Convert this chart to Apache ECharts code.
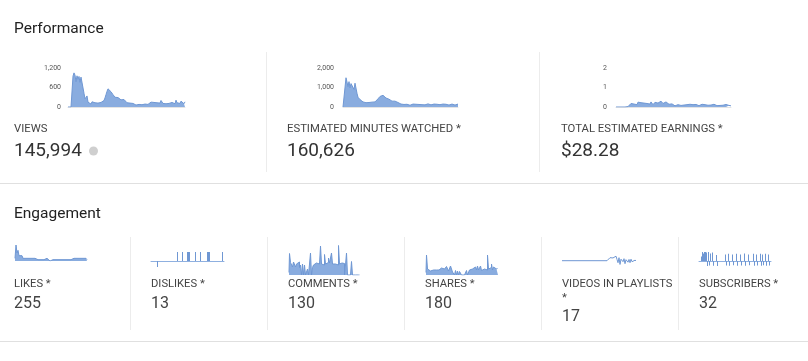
<!DOCTYPE html>
<html>
<head>
<meta charset="utf-8">
<script src="https://cdn.jsdelivr.net/npm/echarts@6/dist/echarts.min.js"></script>
<style>
html,body{margin:0;padding:0;background:#fff;}
#c{width:808px;height:361px;}
</style>
</head>
<body>
<div id="c"></div>
<script>
const viewsTicks = ['0', '600', '1,200'];
const minutesTicks = ['0', '1,000', '2,000'];
const earningsTicks = ['0', '1', '2'];

const views = [0,0,0,0,0,
  950,1050,980,780,960,850,940,760,920,880,940,
  420,250,200,340,150,120,180,90,160,110,170,130,80,150,120,180,100,140,170,120,
  200,280,380,480,560,590,540,470,420,380,330,300,350,260,290,240,270,220,250,210,230,180,200,
  130,110,80,120,90,70,110,80,100,60,90,120,80,110,90,70,100,120,90,140,110,80,130,100,
  150,120,90,140,110,160,130,100,170,120,200,140,110,160,120,100,150,130,110,160,90,140,120,170,100,210,130,100,150,110,180,120,140,100,160];

const minutes = [0,0,0,
  1500,1420,1050,1300,980,1200,1100,1250,900,1220,1180,
  700,500,420,380,300,330,260,280,240,220,260,200,230,190,
  200,250,220,280,260,320,350,420,480,540,580,620,600,
  540,500,460,420,380,400,340,360,300,320,280,300,250,270,230,260,200,
  150,120,100,130,90,110,140,100,120,90,130,110,150,100,120,140,90,110,130,100,150,120,90,140,110,130,100,160,120,140,110,90,130,150,100,120,140,110,170,120,100,130,150,110,90,140,120,160,100,130,110,150,120,140,100,160,130,150];

const earnings = [0,0,0,0,0,0,0,0,0,0,0,0,0.02,
  0.12,0.05,0.18,0.1,0.22,0.15,0.08,0.2,0.12,0.25,0.18,0.3,0.22,0.15,0.28,0.2,0.12,0.24,0.18,0.1,0.22,0.15,0.26,0.18,0.12,0.2,0.24,0.16,0.28,0.2,0.14,0.22,
  0.3,0.24,0.18,0.28,0.2,0.26,0.16,0.22,0.14,0.2,0.1,0.16,0.08,0.12,0.06,0.1,0.08,0.12,0.06,0.1,
  0.08,0.12,0.06,0.1,0.14,0.08,0.12,0.1,0.06,0.14,0.1,0.08,0.12,0.06,0.1,0.13,0.08,0.11,0.07,0.12,0.09,0.14,0.08,0.1,0.12,0.06,0.11,0.09,0.13,0.07,0.1,0.12,0.08,0.14,0.09,0.11,0.07,0.13,0.1,0.08,0.12,0.15,0.09,0.11,0.07,0.13,0.1,0.12,0.08,0.1,0.06];

const likes = [2,12,6,8,4,5,3,4,2,3,1,2,1,1,2,1,1,2,1,1,2,1,2,1,2,2,1,2,1,1,2,1,2,1,1,0,1,0,1,1,0,1,2,1,1,2,1,1,2,1,1,2,1,1,2,1,1,2,1,2,1,1,2,1,1,2,1,1,2,1,1,2,1];

const dislikes = [0,0,0,0,0,0,-2,0,0,0,0,0,0,0,0,0,0,0,0,0,0,0,0,0,0,0,3,0,0,0,0,3,0,0,0,0,3,3,3,0,0,0,0,0,3,0,0,0,0,3,0,0,0,0,0,0,3,3,3,0,0,0,0,0,0,0,0,0,0,0,0,3,0];

const comments = [0.5,4.3,2.5,2.4,1.6,2.6,2.6,1.6,2.2,2.2,2.6,1.5,2,0,2.2,0,2,0,0,1.2,0,0,4.4,0,1.5,2,2.2,2.4,2.2,2.5,2.2,2.5,5.8,2.2,2.4,2,4.1,2.2,2,2.5,3.4,2.4,2.2,4.4,2.2,2.5,2.2,2,2.4,2,5.9,2.2,2.5,2.4,2,2.3,0,2,4.4,0,0,0,0,2.7,0,0,0,0,0,0,0,0];

const shares = [0.5,4,1.2,1,0.8,1,0.9,1,1.1,0.8,1,1.2,0.9,1,1.1,1.4,1,1.6,1.2,0.8,1,1.7,1.3,0.8,1,1.8,1.2,0.6,0.8,0,0.9,0,0.8,0,0.7,1,0,0,0,0,0,0.9,0,0,1,0.8,1.2,1,0.9,1.6,1.2,1,1.8,1,1.3,1.8,0.9,0.8,1.2,0.8,1.5,1,4,1.2,0.8,1.5,2.2,1,1.6,1.8,1.2,1.4,1];

const playlists = [0,0,0,0,0,0,0,0,0,0,0,0,0,0,0,0,0,0,0,0,0,0,0,0,0,0,0,0,0,0,0,0,0,0,0,0,0,0,0,0,0,0,0,0,0,0,
  0.4,0.8,1.2,0.9,1.3,1.1,0.6,1.4,1.8,0.5,-0.8,1.2,-1.5,0.6,1.0,-0.4,0.8,-1.2,0.4,0.9,-0.6,0.5,-0.8,0.6,-0.4,0.3,-0.5,0.2,0];

const subscribers = [0,0,1.5,3,2.5,3,3,2.8,-1.7,3,-1.5,2.5,0,2.8,-1.6,0,0,2,-1.7,0,0,0,0,0,0,0,2.2,-1.5,0,2.4,-1.6,0,0,2.2,-1.4,0,0,2.4,-1.6,0,0,2.2,-1.5,0,0,2.5,-1.6,0,0,2.2,-1.4,0,0,0,2.4,-1.6,0,2.2,-1.5,0,0,2.4,-1.6,2.2,-1.4,0,2.4,-1.6,0,2.2,-1.5,0];

const perfLabels = ['VIEWS', 'ESTIMATED MINUTES WATCHED *', 'TOTAL ESTIMATED EARNINGS *'];
const perfValues = ['145,994', '160,626', '$28.28'];
const engLabels = ['LIKES *', 'DISLIKES *', 'COMMENTS *', 'SHARES *', 'VIDEOS IN PLAYLISTS', 'SUBSCRIBERS *'];
const engValues = ['255', '13', '130', '180', '17', '32'];

// ---- Layout ----
const LINE = '#6f97d3';
const FILL = '#89acdf';
const FONT = 'Roboto, "Noto Sans", sans-serif';

const charts = [
  {data: views, kind: 'area', grid: {left: 68, top: 68, width: 117, height: 39}, y: {min: 0, max: 1200, interval: 600, ticks: viewsTicks, margin: 7}},
  {data: minutes, kind: 'area', grid: {left: 343, top: 68, width: 115, height: 39}, y: {min: 0, max: 2000, interval: 1000, ticks: minutesTicks, margin: 9}},
  {data: earnings, kind: 'area', grid: {left: 616, top: 68, width: 115, height: 39}, y: {min: 0, max: 2, interval: 1, ticks: earningsTicks, margin: 9}},
  {data: likes, kind: 'area', grid: {left: 15, top: 245, width: 72, height: 16}, y: {min: 0, max: 12}},
  {data: dislikes, kind: 'bar', grid: {left: 151, top: 252, width: 73, height: 15}, y: {min: -2, max: 3}},
  {data: comments, kind: 'steparea', grid: {left: 289, top: 245, width: 71, height: 30}, y: {min: 0, max: 6}},
  {data: shares, kind: 'steparea', grid: {left: 426, top: 255, width: 72, height: 20}, y: {min: 0, max: 4}},
  {data: playlists, kind: 'line', grid: {left: 562, top: 255.7, width: 74, height: 10}, y: {min: -2, max: 2}},
  {data: subscribers, kind: 'bar', grid: {left: 699, top: 252, width: 72, height: 15}, y: {min: -2, max: 3}}
];

const grid = [], xAxis = [], yAxis = [], series = [];
charts.forEach((c, i) => {
  grid.push(Object.assign({outerBoundsMode: 'none', containLabel: false}, c.grid));
  const isPerf = !!c.y.ticks;
  const isBar = c.kind === 'bar';
  xAxis.push({
    type: 'category', gridIndex: i, boundaryGap: isBar,
    data: c.data.map((_, k) => k),
    axisLine: {show: isPerf || isBar, onZero: true, lineStyle: {color: isBar ? '#8fb0e0' : '#e4e4e4', width: 1}},
    axisTick: {show: false}, axisLabel: {show: false}, splitLine: {show: false}
  });
  yAxis.push({
    type: 'value', gridIndex: i, min: c.y.min, max: c.y.max,
    interval: c.y.interval,
    axisLine: {show: false}, axisTick: {show: false}, splitLine: {show: false},
    axisLabel: isPerf ? {
      show: true, color: '#555', fontSize: 7, fontFamily: FONT, margin: c.y.margin,
      formatter: (v) => {
        const idx = Math.round((v - c.y.min) / c.y.interval);
        return c.y.ticks[idx] !== undefined ? c.y.ticks[idx] : '';
      }
    } : {show: false}
  });
  let s;
  if (isBar) {
    s = {type: 'bar', xAxisIndex: i, yAxisIndex: i, data: c.data, silent: true,
      barWidth: 1, itemStyle: {color: LINE}};
  } else {
    s = {type: 'line', xAxisIndex: i, yAxisIndex: i, data: c.data,
      showSymbol: false, symbol: 'none', silent: true,
      lineStyle: {color: LINE, width: 1}};
    if (c.kind === 'steparea') s.step = 'middle';
    if (c.kind !== 'line') s.areaStyle = {color: FILL, opacity: 1, origin: 0};
  }
  series.push(s);
});

function T(x, y, text, size, color) {
  return {type: 'text', x: x, y: y, silent: true,
    style: {text: text, fill: color, font: size + 'px ' + FONT, verticalAlign: 'middle', textVerticalAlign: 'middle'}};
}
function L(x1, y1, x2, y2, color) {
  return {type: 'line', silent: true, shape: {x1: x1, y1: y1, x2: x2, y2: y2},
    style: {stroke: color || '#e3e3e3', lineWidth: 1}};
}

const graphic = [];
graphic.push(T(14, 29, 'Performance', 15.5, '#222'));
graphic.push(T(14, 214, 'Engagement', 15.5, '#222'));
graphic.push(L(0, 183.5, 808, 183.5, '#e0e0e0'));
graphic.push(L(0, 341.5, 808, 341.5, '#e0e0e0'));
[266.5, 539.5].forEach(x => graphic.push(L(x, 52, x, 172, '#ececec')));
[130.5, 267.5, 404.5, 541.5, 678.5].forEach(x => graphic.push(L(x, 237, x, 330, '#ececec')));

const perfX = [14, 287, 561];
perfLabels.forEach((t, i) => {
  graphic.push(T(perfX[i], 129.5, t, 11.3, '#444'));
  graphic.push(T(perfX[i], 151.5, perfValues[i], 19, '#333'));
});
graphic.push({type: 'circle', silent: true, shape: {cx: 93.5, cy: 151, r: 4.5}, style: {fill: '#cfcfcf'}});

const engX = [14, 151, 288, 425, 562, 699];
engLabels.forEach((t, i) => {
  graphic.push(T(engX[i], 284, t, 11.2, '#444'));
  if (i === 4) {
    graphic.push(T(engX[i], 298, '*', 11.2, '#444'));
    graphic.push(T(engX[i], 316.5, engValues[i], 16, '#444'));
  } else {
    graphic.push(T(engX[i], 303.5, engValues[i], 16, '#444'));
  }
});

const chart = echarts.init(document.getElementById('c'), null, {renderer: 'canvas'});
chart.setOption({
  backgroundColor: '#fff',
  animation: false,
  grid: grid, xAxis: xAxis, yAxis: yAxis, series: series,
  graphic: graphic
});
</script>
</body>
</html>
